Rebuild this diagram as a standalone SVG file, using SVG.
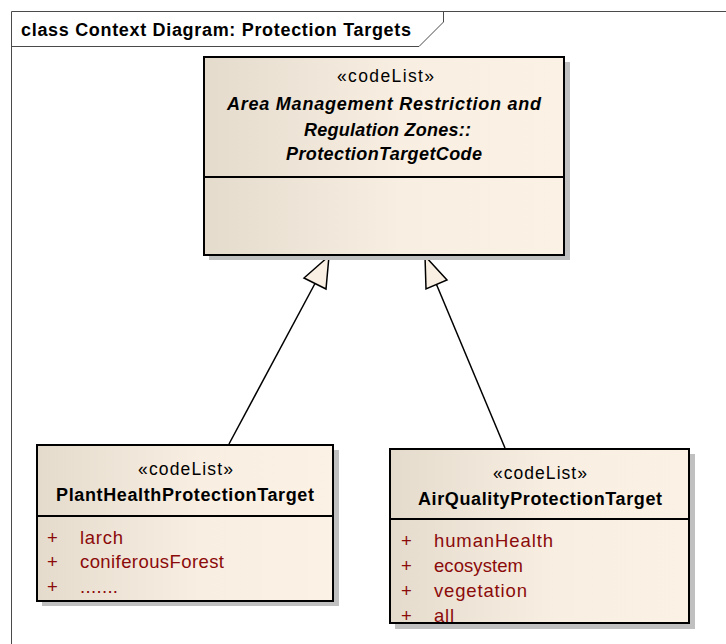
<svg xmlns="http://www.w3.org/2000/svg" width="726" height="644" viewBox="0 0 726 644">
  <defs>
    <linearGradient id="boxFill" x1="0" y1="0" x2="1" y2="0">
      <stop offset="0" stop-color="#E4DBCD"/>
      <stop offset="0.55" stop-color="#F8EEE1"/>
      <stop offset="1" stop-color="#FBF1E4"/>
    </linearGradient>
    <clipPath id="airClip"><rect x="390" y="449" width="299" height="174"/></clipPath>
  </defs>
  <style>
    text { font-family: "Liberation Sans", Arial, sans-serif; fill: #000; }
    .frame { fill: none; stroke: #4a4a4a; stroke-width: 1; }
    .shadow { fill: #C0C0C0; stroke: none; }
    .box { fill: url(#boxFill); stroke: #000; stroke-width: 2; }
    .div { stroke: #000; stroke-width: 2; }
    .title { font-size: 18px; font-weight: bold; }
    .stereo { font-size: 17.5px; }
    .absname { font-size: 18px; font-weight: bold; font-style: italic; }
    .name { font-size: 18px; font-weight: bold; }
    .attr { font-size: 18.5px; fill: #8B0A0A; }
    .edge { fill: none; stroke: #000; stroke-width: 1.5; }
    .head { fill: #F9EFE2; stroke: #000; stroke-width: 1.5; stroke-linejoin: miter; }
  </style>

  <rect width="726" height="644" fill="#fff"/>

  <!-- diagram frame with name tab -->
  <g id="frame">
    <path class="frame" d="M11.5,644 V11.5 H726"/>
    <path class="frame" d="M11.5,46.5 H419 L443.5,22 V11.5"/>
    <text class="title" x="21" y="36" textLength="390">class Context Diagram: Protection Targets</text>
  </g>

  <!-- generalization connectors -->
  <g id="connectors">
    <line class="edge" x1="229" y1="444" x2="315" y2="283.5"/>
    <polygon class="head" points="329,256 304,278 326,289"/>
    <line class="edge" x1="505" y1="448" x2="436.5" y2="284.5"/>
    <polygon class="head" points="425,256 426,289 447,280"/>
  </g>

  <!-- abstract code list -->
  <g id="ProtectionTargetCode">
    <rect class="shadow" x="209" y="62" width="361" height="198"/>
    <rect class="box" x="204" y="57" width="360" height="198"/>
    <line class="div" x1="204" y1="177" x2="564" y2="177"/>
    <text class="stereo" x="337" y="82" textLength="97">«codeList»</text>
    <text class="absname" x="227" y="110" textLength="314">Area Management Restriction and</text>
    <text class="absname" x="304" y="136" textLength="167">Regulation Zones::</text>
    <text class="absname" x="286" y="160" textLength="196">ProtectionTargetCode</text>
  </g>

  <!-- plant health code list -->
  <g id="PlantHealthProtectionTarget">
    <rect class="shadow" x="42" y="450" width="297" height="156"/>
    <rect class="box" x="37" y="445" width="296" height="156"/>
    <line class="div" x1="37" y1="516" x2="333" y2="516"/>
    <text class="stereo" x="138" y="475" textLength="95">«codeList»</text>
    <text class="name" x="56" y="501" textLength="258">PlantHealthProtectionTarget</text>
    <text class="attr" x="47" y="544">+</text>
    <text class="attr" x="80" y="544" textLength="43">larch</text>
    <text class="attr" x="47" y="568">+</text>
    <text class="attr" x="80" y="568" textLength="144">coniferousForest</text>
    <text class="attr" x="47" y="593">+</text>
    <text class="attr" x="80" y="593" textLength="38">.......</text>
  </g>

  <!-- air quality code list -->
  <g id="AirQualityProtectionTarget">
    <rect class="shadow" x="395" y="454" width="300" height="175"/>
    <rect class="box" x="390" y="449" width="299" height="174"/>
    <line class="div" x1="390" y1="519" x2="689" y2="519"/>
    <text class="stereo" x="493" y="479" textLength="94">«codeList»</text>
    <text class="name" x="418" y="505" textLength="244">AirQualityProtectionTarget</text>
    <g clip-path="url(#airClip)">
      <text class="attr" x="401" y="547">+</text>
      <text class="attr" x="434" y="547" textLength="119">humanHealth</text>
      <text class="attr" x="401" y="572">+</text>
      <text class="attr" x="434" y="572" textLength="89">ecosystem</text>
      <text class="attr" x="401" y="597">+</text>
      <text class="attr" x="434" y="597" textLength="93">vegetation</text>
      <text class="attr" x="401" y="622">+</text>
      <text class="attr" x="434" y="622" textLength="20">all</text>
    </g>
    <rect x="390" y="449" width="299" height="174" fill="none" stroke="#000" stroke-width="2"/>
  </g>
</svg>
